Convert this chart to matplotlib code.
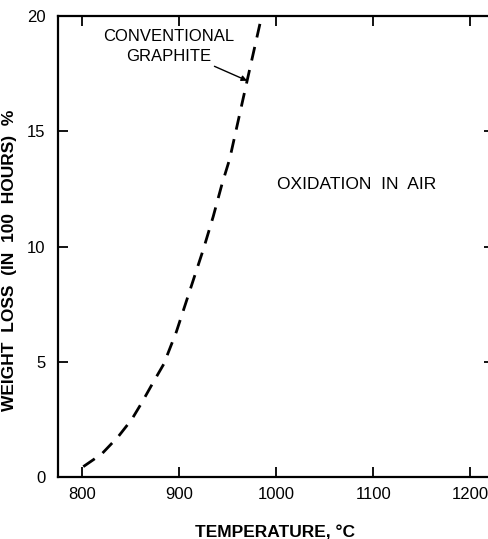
import matplotlib
matplotlib.use("Agg")
import matplotlib.pyplot as plt

plt.rcParams['font.family'] = ['Liberation Sans', 'DejaVu Sans']

# curve (conventional graphite, oxidation in air)
temp_c = [801, 820, 837, 851, 861, 873, 884, 897, 911, 925, 935, 944, 952, 970, 985]
weight_loss = [0.45, 1.0, 1.75, 2.5, 3.2, 4.1, 4.9, 6.3, 8.1, 9.9, 11.3, 12.7, 13.8, 17.2, 20.0]

x_ticks = [800, 900, 1000, 1100, 1200]
x_labels = ['800', '900', '1000', '1100', '1200']
y_ticks = [0, 5, 10, 15, 20]
y_labels = ['0', '5', '10', '15', '20']

fig = plt.figure(figsize=(4.88, 5.39), dpi=100)
ax = fig.add_axes([0.119, 0.115, 0.894, 0.855])

ax.plot(temp_c, weight_loss, color='black', lw=2.0, ls=(0, (5, 3.5)), clip_on=False)

ax.set_xlim(775, 1225)
ax.set_ylim(0, 20)
ax.set_xticks(x_ticks)
ax.set_xticklabels(x_labels)
ax.set_yticks(y_ticks)
ax.set_yticklabels(y_labels)
ax.tick_params(direction='in', length=7, width=1.3, top=True, right=True,
               labelsize=12, colors='black')
ax.tick_params(axis='y', pad=9)
ax.tick_params(axis='x', pad=7)
for s in ax.spines.values():
    s.set_linewidth(1.6)

ax.set_xlabel('TEMPERATURE, °C', fontsize=12.5, fontweight='bold')
ax.set_ylabel('WEIGHT  LOSS  (IN  100  HOURS)  %', fontsize=12.5, fontweight='bold')
ax.xaxis.set_label_coords(0.497, -0.104)
ax.yaxis.set_label_coords(-0.094, 0.47)

ax.annotate('CONVENTIONAL\nGRAPHITE', xy=(970, 17.2), xytext=(889, 18.7),
            ha='center', va='center', fontsize=12, linespacing=1.4,
            arrowprops=dict(arrowstyle='-|>', color='black', lw=1.0,
                            mutation_scale=8, shrinkA=34, shrinkB=0))
ax.text(1083, 12.7, 'OXIDATION  IN  AIR', ha='center', va='center', fontsize=12.5)

fig.savefig('out.png', dpi=100)
